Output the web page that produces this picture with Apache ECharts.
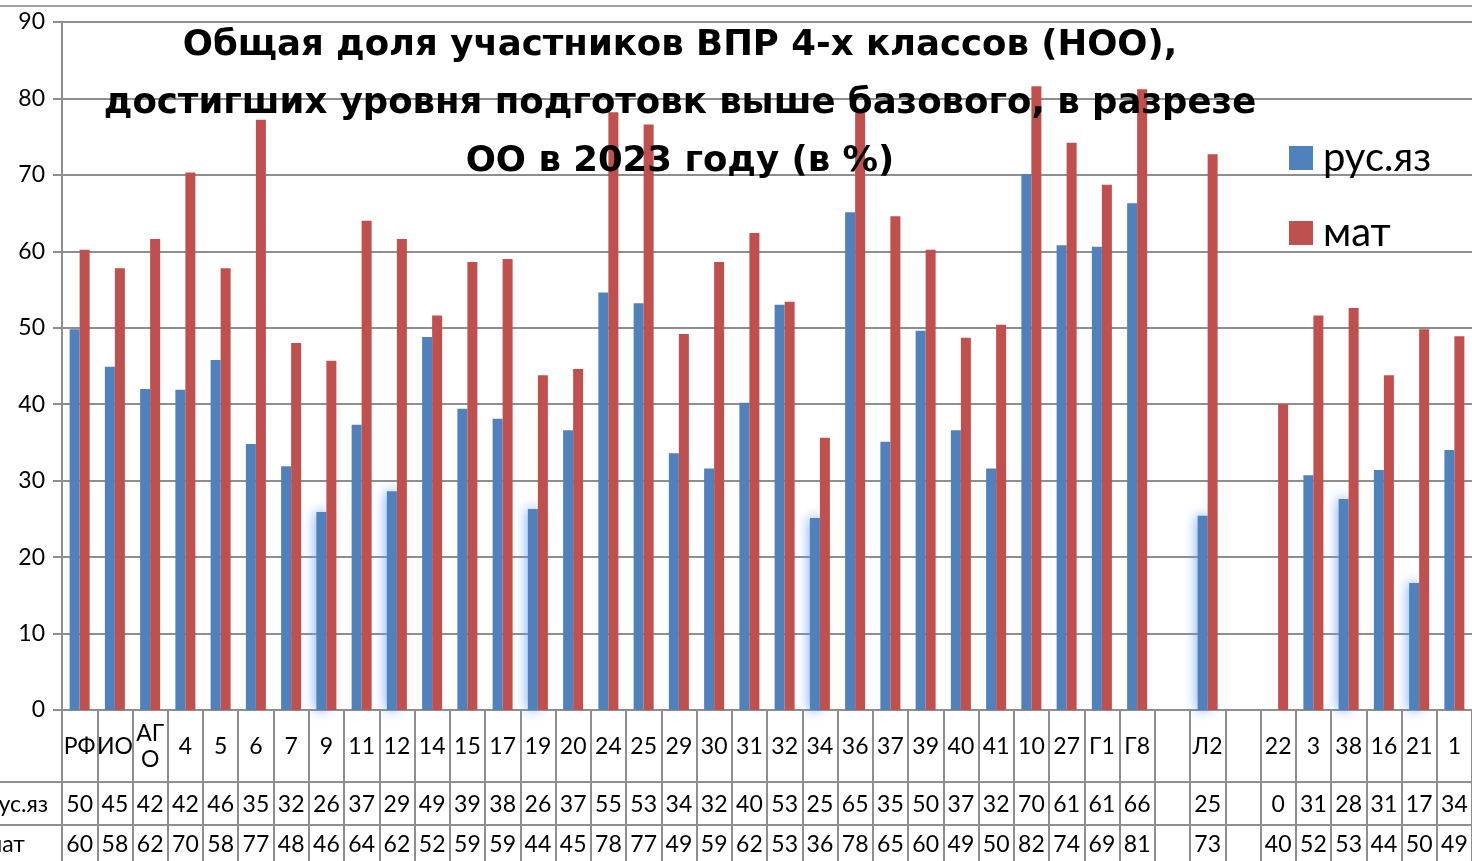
<!DOCTYPE html>
<html>
<head>
<meta charset="utf-8">
<title>ВПР 4 класс</title>
<script src="https://cdn.jsdelivr.net/npm/echarts@6/dist/echarts.min.js"></script>
<style>
html, body { margin: 0; padding: 0; background: #fff; }
#chart { width: 1472px; height: 861px; }
</style>
</head>
<body>
<div id="chart"></div>
<script>
const categories = ["РФ", "ИО", "АГО", "4", "5", "6", "7", "9", "11", "12", "14", "15", "17", "19", "20",
  "24", "25", "29", "30", "31", "32", "34", "36", "37", "39", "40", "41", "10", "27", "Г1", "Г8",
  "", "Л2", "", "22", "3", "38", "16", "21", "1"];

const rusValues = [49.8, 44.9, 42.0, 41.9, 45.8, 34.8, 31.9, 25.9, 37.3, 28.6, 48.8, 39.4, 38.1, 26.3, 36.6,
  54.6, 53.2, 33.6, 31.6, 40.2, 53.0, 25.1, 65.1, 35.1, 49.6, 36.6, 31.6, 70.1, 60.8, 60.6, 66.3,
  null, 25.4, null, 0, 30.7, 27.6, 31.4, 16.6, 34.0];

const matValues = [60.2, 57.8, 61.6, 70.3, 57.8, 77.2, 48.0, 45.7, 64.0, 61.6, 51.6, 58.6, 59.0, 43.8, 44.6,
  78.2, 76.6, 49.2, 58.6, 62.4, 53.4, 35.6, 78.1, 64.6, 60.2, 48.7, 50.4, 81.6, 74.2, 68.7, 81.2,
  null, 72.7, null, 40.0, 51.6, 52.6, 43.8, 49.8, 48.9];

// столбцы рус.яз, подсвеченные свечением
const glowCategories = ["9", "12", "19", "34", "Л2", "38", "21"];

const FONT = 'Lato, "Noto Sans", sans-serif';
const gray = "#8e8e8e";

function fmt(v) {
  return v == null ? "" : String(Math.round(v));
}

const chart = echarts.init(document.getElementById("chart"));

const rusData = rusValues.map((v, i) => {
  if (glowCategories.indexOf(categories[i]) >= 0) {
    return {
      value: v,
      itemStyle: { shadowBlur: 13, shadowColor: "rgba(95,155,240,1)" }
    };
  }
  return v;
});

const tableAxis = (offset, margin, values) => ({
  type: "category",
  data: categories,
  position: "bottom",
  offset: offset,
  axisLine: { lineStyle: { color: gray, width: 2 } },
  axisTick: { show: false },
  axisLabel: {
    interval: 0,
    margin: margin,
    verticalAlign: "middle",
    fontSize: 23,
    fontFamily: FONT,
    color: "#000",
    formatter: (val, idx) => fmt(values[idx])
  }
});

const option = {
  animation: false,
  backgroundColor: "#fff",
  title: {
    text: "Общая доля участников ВПР 4-х классов (НОО),\nдостигших уровня подготовк выше базового, в разрезе\nОО в 2023 году (в %)",
    left: 680,
    top: 17,
    padding: 0,
    textAlign: "center",
    textStyle: {
      fontFamily: '"DejaVu Sans", sans-serif',
      fontSize: 35.5,
      fontWeight: "bold",
      lineHeight: 58,
      color: "#000"
    }
  },
  legend: {
    orient: "vertical",
    left: 1289,
    top: 138,
    padding: 0,
    itemWidth: 24,
    itemHeight: 24,
    itemGap: 35,
    icon: "rect",
    textStyle: { fontFamily: FONT, fontSize: 40, color: "#000", padding: [0, 0, 0, 5] },
    data: ["рус.яз", "мат"]
  },
  grid: { left: 62, top: 22, width: 1413, bottom: 151, containLabel: false },
  xAxis: [
    {
      type: "category",
      data: categories,
      position: "bottom",
      axisLine: { lineStyle: { color: gray, width: 2 } },
      axisTick: { show: true, length: 151, lineStyle: { color: gray, width: 2 } },
      axisLabel: {
        interval: 0,
        margin: 37,
        verticalAlign: "middle",
        lineHeight: 26,
        fontSize: 23,
        fontFamily: FONT,
        color: "#000",
        formatter: (v) => (v === "АГО" ? "АГ\nО" : v)
      }
    },
    tableAxis(72, 23, rusValues),
    tableAxis(115, 20, matValues)
  ],
  yAxis: {
    type: "value",
    min: 0,
    max: 90,
    interval: 10,
    axisLine: { show: true, lineStyle: { color: gray, width: 2 } },
    axisTick: { show: true, length: 9, lineStyle: { color: gray, width: 2 } },
    axisLabel: { margin: 17, fontSize: 23, fontFamily: FONT, color: "#000" },
    splitLine: { lineStyle: { color: gray, width: 2 } }
  },
  series: [
    {
      name: "рус.яз",
      type: "bar",
      barWidth: 10,
      barGap: "0%",
      itemStyle: { color: "#4F81BD" },
      data: rusData
    },
    {
      name: "мат",
      type: "bar",
      barWidth: 10,
      itemStyle: { color: "#C0504D" },
      data: matValues
    }
  ],
  graphic: [
    { type: "line", shape: { x1: 0, y1: 6, x2: 1472, y2: 6 }, style: { stroke: "#a0a0a0", lineWidth: 2 } },
    { type: "line", shape: { x1: 0, y1: 782, x2: 62, y2: 782 }, style: { stroke: gray, lineWidth: 2 } },
    { type: "line", shape: { x1: 0, y1: 825, x2: 62, y2: 825 }, style: { stroke: gray, lineWidth: 2 } },
    { type: "text", x: -14, y: 805, style: { text: "рус.яз", font: "23px " + FONT, fill: "#000", textVerticalAlign: "middle" } },
    { type: "text", x: -14, y: 845, style: { text: "мат", font: "23px " + FONT, fill: "#000", textVerticalAlign: "middle" } }
  ]
};

chart.setOption(option);
</script>
</body>
</html>
